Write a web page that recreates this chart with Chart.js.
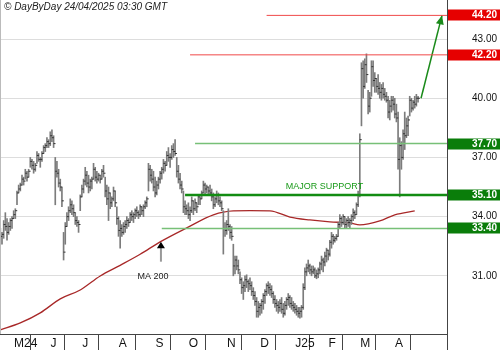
<!DOCTYPE html>
<html>
<head>
<meta charset="utf-8">
<script src="https://cdn.jsdelivr.net/npm/chart.js@4.4.1/dist/chart.umd.min.js"></script>
<style>
  html, body { margin: 0; padding: 0; background: #fff; }
</style>
</head>
<body>
<canvas id="myChart" width="500" height="350"></canvas>
<script>
// daily bars, index 0 = 22/04/2024, last = 23/04/2025
const highs = [
  33.4, 33.2, 33.8, 34.2, 33.9, 33.7, 33.9, 34.0, 34.3, 34.4,
  35.3, 35.6, 35.7, 36.1, 36.0, 36.4, 36.3, 36.4, 37.0, 36.9,
  36.8, 36.7, 37.3, 37.2, 37.0, 37.3, 37.6, 37.7, 38.0, 37.9,
  38.3, 38.4, 38.1, 37.0, 36.8, 36.4, 35.9, 35.5, 33.2, 33.7,
  34.2, 34.5, 34.9, 34.8, 34.6, 34.2, 34.0, 33.8, 35.1, 35.6,
  35.9, 36.5, 36.3, 36.1, 35.9, 36.0, 36.7, 36.5, 36.3, 36.2,
  36.1, 36.4, 36.6, 36.0, 35.6, 35.5, 35.2, 35.0, 35.5, 35.3,
  34.5, 34.0, 33.8, 33.6, 33.7, 33.8, 34.0, 33.9, 34.2, 34.3,
  34.2, 34.4, 34.5, 34.3, 34.6, 34.5, 34.6, 34.8, 35.0, 36.7,
  36.6, 36.4, 36.3, 36.0, 35.8, 36.0, 36.3, 36.5, 36.9, 36.8,
  37.3, 37.5, 37.2, 37.6, 37.7, 37.9, 37.0, 36.6, 36.2, 35.8,
  35.3, 34.8, 34.6, 34.7, 34.5, 35.0, 34.8, 34.9, 34.7, 35.1,
  35.0, 35.3, 35.8, 35.7, 35.6, 35.5, 35.6, 35.4, 35.2, 35.0,
  35.3, 35.2, 35.0, 34.8, 34.3, 33.7, 33.8, 34.4, 33.6, 33.5,
  32.6, 32.0, 32.0, 31.8, 31.2, 30.9, 30.7, 31.0, 31.05, 30.8,
  30.9, 30.7, 30.4, 30.2, 29.9, 29.7, 29.6, 29.8, 30.1, 30.3,
  30.6, 30.7, 30.6, 30.5, 30.2, 30.0, 29.8, 29.7, 29.8, 29.9,
  29.6, 29.7, 29.9, 30.1, 30.0, 29.9, 29.7, 29.6, 29.5, 29.4,
  29.4, 29.5, 30.6, 31.4, 31.6, 31.8, 31.6, 31.5, 31.5, 31.4,
  31.3, 31.4, 31.7, 32.0, 31.9, 32.2, 32.4, 32.3, 32.8, 33.2,
  33.1, 33.0, 33.1, 33.7, 34.1, 34.0, 34.1, 34.0, 33.9, 34.0,
  33.9, 34.1, 34.4, 34.3, 34.7, 35.3, 38.2, 41.8, 41.9, 42.0,
  42.25, 40.4, 40.3, 41.9, 41.9, 41.3, 41.0, 41.2, 40.8, 40.7,
  40.8, 40.5, 40.3, 40.1, 39.9, 40.1, 40.1, 40.0, 39.7, 39.3,
  38.0, 37.8, 38.4, 39.3, 39.0, 39.1, 40.1, 40.0, 39.9, 40.1,
  40.2, 40.1
];
const lows = [
  32.6, 32.6, 32.9, 33.3, 32.8, 33.1, 33.3, 33.4, 33.9, 33.9,
  34.6, 35.2, 35.3, 35.6, 35.6, 35.9, 35.8, 36.0, 36.5, 36.4,
  36.2, 36.3, 36.7, 36.8, 36.5, 36.8, 37.2, 37.3, 37.5, 37.5,
  37.6, 37.8, 37.5, 34.6, 36.0, 35.5, 35.3, 34.5, 31.8, 32.6,
  33.5, 33.8, 34.2, 34.1, 34.0, 33.6, 33.5, 33.2, 34.3, 35.0,
  35.2, 35.6, 35.5, 35.2, 35.3, 35.4, 35.9, 35.8, 35.7, 35.8,
  35.7, 35.9, 36.0, 35.0, 34.6, 33.8, 34.4, 34.5, 34.8, 34.5,
  33.6, 33.0, 32.4, 33.0, 33.1, 33.2, 33.4, 33.5, 33.7, 33.8,
  33.7, 33.9, 34.0, 33.9, 34.0, 34.1, 34.0, 34.4, 34.5, 35.3,
  35.8, 35.7, 35.3, 35.0, 35.1, 35.4, 35.7, 35.9, 36.2, 36.3,
  36.6, 36.8, 36.5, 36.9, 37.0, 37.1, 36.0, 35.7, 35.4, 35.2,
  34.2, 34.1, 34.1, 33.9, 33.8, 34.2, 34.1, 34.3, 34.2, 34.6,
  34.6, 34.9, 35.2, 35.1, 35.2, 35.1, 35.1, 34.8, 34.4, 34.5,
  34.7, 34.6, 34.5, 34.3, 32.1, 33.0, 33.1, 33.3, 32.9, 32.8,
  31.0, 31.1, 31.3, 31.1, 30.6, 30.1, 29.8, 30.2, 30.4, 30.2,
  30.3, 30.0, 29.8, 29.5, 28.9, 28.9, 29.0, 29.1, 29.3, 29.6,
  30.0, 30.1, 30.0, 29.9, 29.6, 29.4, 29.2, 29.1, 29.2, 29.1,
  28.9, 29.0, 29.3, 29.5, 29.4, 29.3, 29.2, 29.1, 29.0, 28.9,
  28.85, 28.9, 29.3, 30.3, 31.0, 31.2, 31.1, 31.0, 31.1, 30.9,
  30.85, 30.9, 31.1, 31.3, 31.2, 31.5, 31.7, 31.8, 32.0, 32.4,
  32.6, 32.7, 32.8, 33.0, 33.4, 33.5, 33.6, 33.4, 33.4, 33.5,
  33.4, 33.6, 33.8, 33.9, 34.1, 34.5, 35.0, 38.6, 40.0, 40.5,
  40.8, 39.2, 39.3, 40.1, 40.6, 40.3, 40.3, 40.2, 40.0, 39.9,
  40.0, 39.9, 39.8, 39.0, 38.9, 39.3, 39.4, 39.0, 38.8, 36.4,
  35.0, 36.4, 36.9, 37.4, 38.0, 38.1, 39.1, 39.3, 39.4, 39.5,
  39.6, 39.8
];
const closes = [
  33.0, 33.1, 33.6, 33.5, 33.2, 33.5, 33.8, 33.9, 34.1, 34.3,
  35.2, 35.4, 35.6, 35.9, 35.8, 36.2, 36.0, 36.3, 36.8, 36.6,
  36.4, 36.6, 37.1, 36.9, 36.9, 37.2, 37.5, 37.6, 37.8, 37.7,
  38.1, 38.0, 37.7, 36.3, 36.2, 35.7, 35.5, 34.8, 32.2, 33.5,
  34.0, 34.3, 34.6, 34.4, 34.2, 33.8, 33.7, 33.6, 35.0, 35.4,
  35.8, 36.1, 35.7, 35.5, 35.8, 35.9, 36.4, 36.0, 35.9, 36.1,
  35.9, 36.3, 36.2, 35.3, 34.9, 35.2, 34.7, 34.9, 35.3, 34.7,
  33.9, 33.3, 33.4, 33.2, 33.5, 33.6, 33.8, 33.7, 34.1, 34.0,
  34.1, 34.3, 34.2, 34.1, 34.5, 34.3, 34.5, 34.7, 34.9, 36.4,
  36.1, 35.9, 35.5, 35.2, 35.6, 35.9, 36.2, 36.4, 36.7, 36.6,
  37.1, 37.0, 37.0, 37.4, 37.3, 37.2, 36.3, 35.9, 35.6, 35.4,
  34.5, 34.4, 34.3, 34.1, 34.3, 34.8, 34.4, 34.7, 34.5, 35.0,
  34.9, 35.2, 35.6, 35.4, 35.5, 35.3, 35.2, 35.0, 34.6, 34.9,
  35.1, 34.8, 34.7, 34.4, 33.4, 33.3, 33.6, 33.5, 33.2, 33.0,
  31.5, 31.8, 31.5, 31.3, 30.8, 30.4, 30.5, 30.8, 30.7, 30.6,
  30.5, 30.2, 30.0, 29.7, 29.2, 29.4, 29.5, 29.7, 30.0, 30.2,
  30.5, 30.4, 30.3, 30.1, 29.8, 29.6, 29.5, 29.4, 29.6, 29.3,
  29.1, 29.5, 29.8, 29.9, 29.6, 29.5, 29.4, 29.3, 29.2, 29.1,
  29.2, 29.4, 30.4, 31.2, 31.4, 31.5, 31.3, 31.2, 31.3, 31.0,
  31.1, 31.3, 31.6, 31.8, 31.7, 32.0, 32.3, 32.1, 32.7, 33.0,
  32.8, 32.9, 33.0, 33.6, 33.9, 33.7, 34.0, 33.6, 33.8, 33.7,
  33.8, 34.0, 34.2, 34.1, 34.6, 35.1, 37.9, 41.5, 40.6, 41.7,
  41.2, 39.6, 40.0, 41.6, 40.9, 41.0, 40.6, 40.5, 40.3, 40.5,
  40.2, 40.1, 39.9, 39.3, 39.6, 39.9, 39.7, 39.2, 39.0, 36.9,
  37.6, 37.0, 38.2, 38.1, 38.6, 38.9, 39.9, 39.5, 39.8, 39.7,
  40.0, 40.0
];

// MA 200 at a few bars
const maIndex = [0, 12, 24, 36, 48, 60, 72, 84, 96, 112, 128, 140, 150, 162, 174, 186, 198, 210, 216, 228, 237, 249];
const maValues = [28.26, 28.61, 29.12, 29.83, 30.28, 30.99, 31.53, 32.09, 32.72, 33.43, 34.09, 34.29, 34.30, 34.29, 33.98, 33.83, 33.73, 33.68, 33.58, 33.78, 34.09, 34.29];

// month ticks (bar index of first day)
const monthIndex = [7, 29, 48, 70, 92, 112, 135, 155, 176, 196, 215, 236];
const monthLabels = ["M24", "J", "J", "A", "S", "O", "N", "D", "J25", "F", "M", "A"];
const priceTicks = [31, 34, 37, 40, 43];

// horizontal levels and the bar they start from
const levelValues = [44.2, 42.2, 37.7, 35.1, 33.4];
const levelFrom = [160, 114, 117, 111, 97];
const levelColors = ["#f04848", "#f04848", "#77c077", "#128c12", "#77c077"];
const levelWidths = [1, 1, 1.5, 2.5, 1.5];
const boxColors = ["#e60000", "#e60000", "#0a7d0a", "#0a7d0a", "#0a7d0a"];

// target arrow and MA 200 marker
const arrowStart = [252.8, 40.0];
const arrowEnd = [265.4, 44.2];
const maMark = [96.5, 32.73];
const supportLabelAt = 194.8;

const xMin = -0.21;
const xMax = 268.4;
const yMin = 28.05;
const yMax = 44.98;
const font = "'Liberation Sans', Arial, sans-serif";

const extras = {
    id: "extras",
    afterDraw(chart) {
        const { ctx, chartArea: a, scales: { x, y } } = chart;
        ctx.save();
        // left frame line
        ctx.strokeStyle = "#bbbbbb";
        ctx.lineWidth = 1;
        ctx.beginPath();
        ctx.moveTo(0.5, 0);
        ctx.lineTo(0.5, a.bottom);
        ctx.stroke();
        // right axis runs down to the bottom
        ctx.strokeStyle = "#444";
        ctx.beginPath();
        ctx.moveTo(a.right + 0.5, a.bottom);
        ctx.lineTo(a.right + 0.5, chart.height);
        ctx.stroke();

        // level boxes on the price axis
        levelValues.forEach((v, i) => {
            const py = y.getPixelForValue(v);
            ctx.fillStyle = boxColors[i];
            ctx.fillRect(a.right + 1, Math.round(py) - 5.5, chart.width - a.right - 1, 11);
            ctx.fillStyle = "#fff";
            ctx.font = "bold 10px " + font;
            ctx.textAlign = "right";
            ctx.textBaseline = "middle";
            ctx.fillText(v.toFixed(2), chart.width - 3, Math.round(py) + 0.5);
        });

        // arrow head
        const x1 = x.getPixelForValue(arrowStart[0]), y1 = y.getPixelForValue(arrowStart[1]);
        const x2 = x.getPixelForValue(arrowEnd[0]), y2 = y.getPixelForValue(arrowEnd[1]);
        const ang = Math.atan2(y2 - y1, x2 - x1);
        ctx.fillStyle = "#1a8a1a";
        ctx.beginPath();
        ctx.moveTo(x2, y2);
        ctx.lineTo(x2 - 9 * Math.cos(ang) + 4 * Math.sin(ang), y2 - 9 * Math.sin(ang) - 4 * Math.cos(ang));
        ctx.lineTo(x2 - 9 * Math.cos(ang) - 4 * Math.sin(ang), y2 - 9 * Math.sin(ang) + 4 * Math.cos(ang));
        ctx.closePath();
        ctx.fill();

        // MA 200 marker
        const mx = x.getPixelForValue(maMark[0]), my = y.getPixelForValue(maMark[1]);
        ctx.strokeStyle = "#999";
        ctx.lineWidth = 2;
        ctx.beginPath();
        ctx.moveTo(mx, my + 5);
        ctx.lineTo(mx, my + 20);
        ctx.stroke();
        ctx.fillStyle = "#000";
        ctx.beginPath();
        ctx.moveTo(mx, my);
        ctx.lineTo(mx - 4, my + 6.5);
        ctx.lineTo(mx + 4, my + 6.5);
        ctx.closePath();
        ctx.fill();
        ctx.fillStyle = "#222";
        ctx.font = "9px " + font;
        ctx.textAlign = "center";
        ctx.textBaseline = "middle";
        ctx.fillText("MA 200", mx - 8, my + 35);

        // support label
        ctx.fillStyle = "#1a9a1a";
        ctx.font = "9px " + font;
        ctx.fillText("MAJOR SUPPORT", x.getPixelForValue(supportLabelAt), y.getPixelForValue(levelValues[3]) - 8.5);

        // header
        ctx.fillStyle = "#222";
        ctx.font = "italic 10px " + font;
        ctx.textAlign = "left";
        ctx.fillText("\u00A9 DayByDay 24/04/2025 03:30 GMT", 4, 7);
        ctx.restore();
    }
};

const datasets = [];
levelValues.forEach((v, i) => {
    datasets.push({
        type: "line",
        data: [{ x: levelFrom[i], y: v }, { x: xMax, y: v }],
        borderColor: levelColors[i],
        borderWidth: levelWidths[i],
        pointRadius: 0
    });
});
datasets.push({
    type: "line",
    data: [{ x: arrowStart[0], y: arrowStart[1] }, { x: arrowEnd[0], y: arrowEnd[1] }],
    borderColor: "#1a8a1a",
    borderWidth: 1.5,
    pointRadius: 0
});
datasets.push({
    type: "scatter",
    data: closes.map((c, i) => ({ x: i + 0.55, y: c })),
    pointStyle: "line",
    radius: 1,
    borderWidth: 1,
    borderColor: "#333"
});
datasets.push({
    type: "bar",
    data: highs.map((h, i) => ({ x: i, y: [lows[i], h] })),
    backgroundColor: "#7c7c7c",
    barThickness: 1,
    borderWidth: 0
});
datasets.push({
    type: "line",
    data: maIndex.map((v, i) => ({ x: v, y: maValues[i] })),
    borderColor: "#a82828",
    borderWidth: 1.3,
    pointRadius: 0,
    cubicInterpolationMode: "monotone"
});

const myChart = new Chart(document.getElementById("myChart"), {
    type: "bar",
    data: { datasets },
    options: {
        responsive: false,
        animation: false,
        devicePixelRatio: 1,
        layout: { padding: 0, autoPadding: false },
        plugins: { legend: { display: false }, tooltip: { enabled: false } },
        scales: {
            x: {
                type: "linear",
                min: xMin,
                max: xMax,
                offset: false,
                afterBuildTicks: (s) => { s.ticks = monthIndex.map((v) => ({ value: v })); },
                afterFit: (s) => { s.height = 16; s.paddingLeft = 0; s.paddingRight = 0; },
                grid: { drawOnChartArea: false, drawTicks: true, tickLength: 16, color: "#444" },
                border: { display: true, color: "#444" },
                ticks: {
                    autoSkip: false,
                    maxRotation: 0,
                    align: "start",
                    labelOffset: 2,
                    padding: -14,
                    color: "#111",
                    font: { family: font, size: 12 },
                    callback: (v, i) => monthLabels[i]
                }
            },
            y: {
                position: "right",
                min: yMin,
                max: yMax,
                afterBuildTicks: (s) => { s.ticks = priceTicks.map((v) => ({ value: v })); },
                afterFit: (s) => { s.width = 53; s.paddingTop = 0; s.paddingBottom = 0; },
                grid: { drawTicks: false, color: "#dddddd" },
                border: { display: true, color: "#444" },
                ticks: {
                    padding: 25,
                    color: "#111",
                    font: { family: font, size: 10 },
                    callback: (v) => v.toFixed(2)
                }
            }
        }
    },
    plugins: [extras]
});
</script>
</body>
</html>
